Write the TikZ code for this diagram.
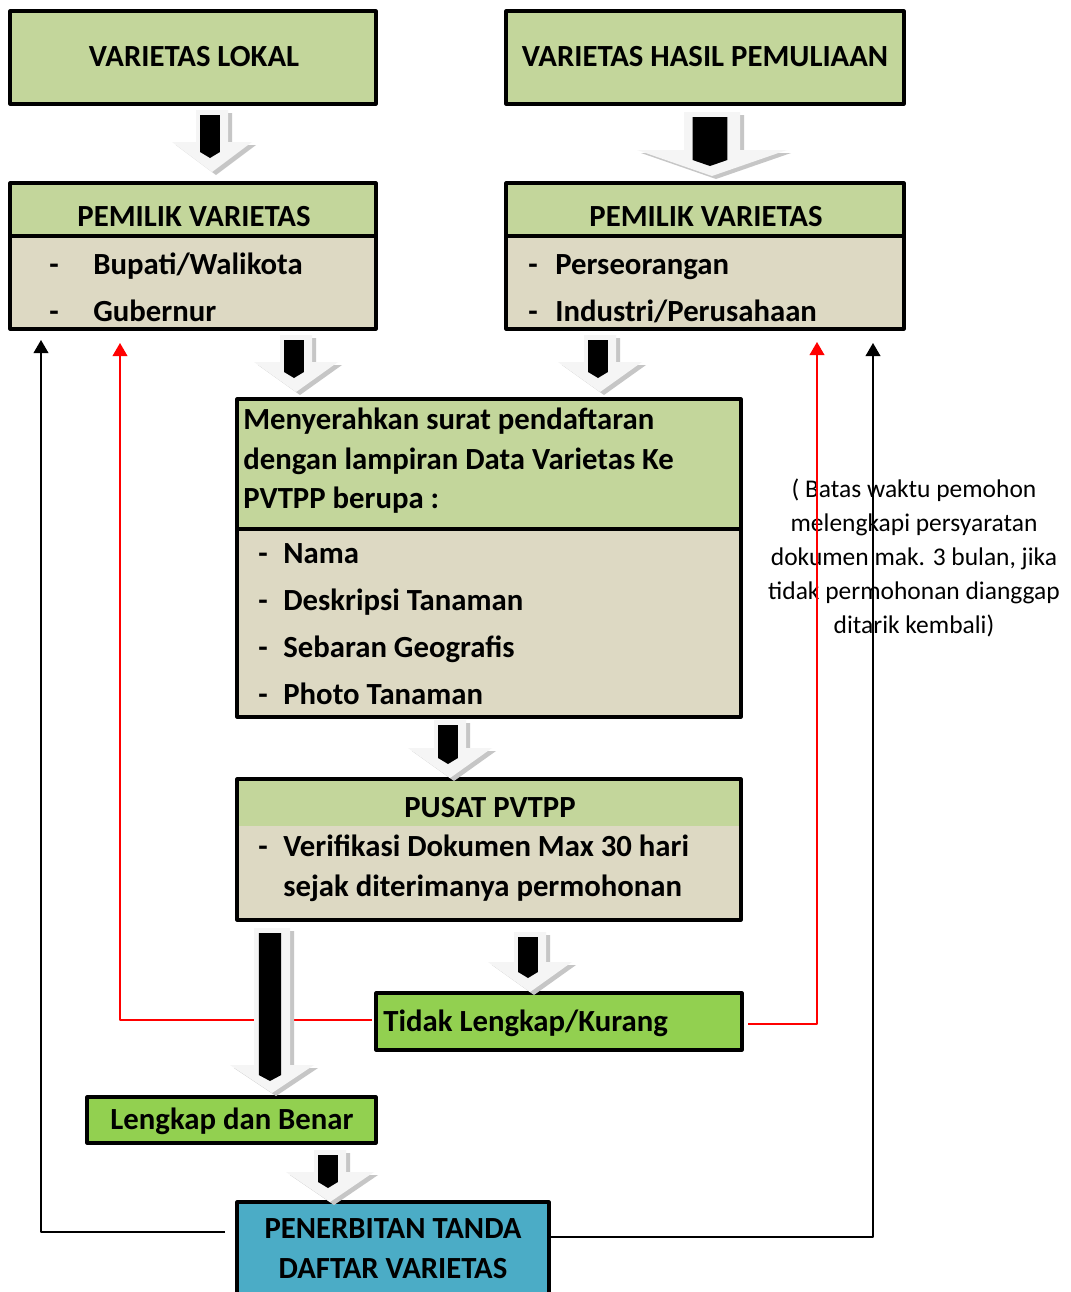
\documentclass[tikz,border=0pt]{standalone}
\usepackage{fontspec}
\setmainfont{Carlito}
\usetikzlibrary{arrows.meta,fit}
\definecolor{hijau}{HTML}{C3D69B}
\definecolor{krem}{HTML}{DDD9C3}
\definecolor{hijaumuda}{HTML}{92D050}
\definecolor{biru}{HTML}{4BACC6}
\tikzset{
  kotak/.style={draw, line width=1.8pt, inner sep=0pt},
  tebal/.style={font=\fontsize{17.5}{20}\selectfont\bfseries, inner sep=0pt},
  kiri/.style={tebal, anchor=mid west, yshift=-3.6pt},
  catatan/.style={font=\fontsize{14.5}{19.3}\selectfont, align=center, inner sep=0pt},
  garis/.style={line width=0.8pt, -{Triangle[length=7.5pt,width=8.5pt]}},
}
\begin{document}
\begin{tikzpicture}[x=0.02cm, y=-0.02cm, line join=round]
\clip (0,0) rectangle (1071,1292);
\fill[white] (0,0) rectangle (1071,1292);
% baris atas
\node[kotak, fill=hijau, fit={(10,11) (376,104)}] (vl) {};
\node[kotak, fill=hijau, fit={(506,11) (904,104)}] (vhp) {};
\node[tebal] (tvl) at (194,57) {VARIETAS LOKAL};
\node[tebal] (tvhp) at (705,57) {VARIETAS HASIL PEMULIAAN};
% pemilik varietas
\foreach \n/\xa/\xb/\xt/\xd/\xi/\sa/\sb in {pl/10/376/194/49/93/Bupati\slash Walikota/Gubernur, pr/506/904/706/528/555/Perseorangan/Industri\slash Perusahaan} {
  \node[kotak, fill=hijau, fit={(\xa,183) (\xb,236)}] (\n-h) {};
  \node[kotak, fill=krem, fit={(\xa,236) (\xb,329)}] (\n-b) {};
  \node[tebal] (\n-t) at (\xt,217) {PEMILIK VARIETAS};
  \node[kiri] (\n-d1) at (\xd,264) {-};
  \node[kiri] (\n-d2) at (\xd,311) {-};
  \node[kiri] (\n-s1) at (\xi,264) {\sa};
  \node[kiri] (\n-s2) at (\xi,311) {\sb};
}
% menyerahkan surat
\node[kotak, fill=hijau, fit={(237,399) (741,529)}] (surat-h) {};
\node[kotak, fill=krem, fit={(237,529) (741,717)}] (surat-b) {};
\foreach \y/\t in {419/Menyerahkan surat pendaftaran, 459/dengan lampiran Data Varietas Ke, 498/PVTPP berupa :}
  \node[kiri] (surat-\y) at (243,\y) {\t};
\foreach \y/\t in {553/Nama, 600/Deskripsi Tanaman, 647/Sebaran Geografis, 694/Photo Tanaman} {
  \node[kiri] (dd-\y) at (258,\y) {-};
  \node[kiri] (lamp-\y) at (283,\y) {\t};
}
% pusat pvtpp
\fill[hijau] (237,779) rectangle (741,826);
\fill[krem] (237,826) rectangle (741,920);
\node[kotak, fit={(237,779) (741,920)}] (pusat) {};
\node[tebal] (tpusat) at (490,808) {PUSAT PVTPP};
\node[kiri] (dpusat) at (258,846) {-};
\node[kiri] (vpusat1) at (283,846) {Verifikasi Dokumen Max 30 hari};
\node[kiri] (vpusat2) at (283,886) {sejak diterimanya permohonan};
% hasil verifikasi
\node[kotak, fill=hijaumuda, fit={(376,993) (742,1050)}] (tidak) {};
\node[kiri] (ttidak) at (383,1021) {Tidak Lengkap/Kurang};
\node[kotak, fill=hijaumuda, fit={(87,1097) (376,1143)}] (lengkap) {};
\node[tebal] (tlengkap) at (232,1121) {Lengkap dan Benar};
\node[kotak, fill=biru, fit={(237,1202) (549,1320)}] (terbit) {};
\node[tebal] (tterbit1) at (393,1229) {PENERBITAN TANDA};
\node[tebal] (tterbit2) at (393,1269) {DAFTAR VARIETAS};
% catatan batas waktu
\node[catatan] (batas) at (914,558) {( Batas waktu pemohon\\melengkapi persyaratan\\dokumen mak. 3 bulan, jika\\tidak permohonan dianggap\\ditarik kembali)};
% garis balik
\coordinate (a1) at (225,1232); \coordinate (b1) at (41,340);
\coordinate (a2) at (551,1237); \coordinate (b2) at (873,343);
\coordinate (a3) at (372,1020); \coordinate (b3) at (120,343);
\coordinate (a4) at (748,1024); \coordinate (b4) at (817,342);
\draw[garis] (a1) -| (b1);
\draw[garis] (a2) -| (b2);
\draw[garis, red] (a3) -| (b3);
\draw[garis, red] (a4) -| (b4);
% panah blok
\foreach \x/\ya/\yb/\h/\s/\k in {212/110/172/40/16/30, 712/112/176/75/28/26, 296/335/392/42/16/30, 600/335/392/42/16/30, 450/720/778/42/16/30, 272/928/1093/42/18/28, 530/932/992/42/16/30, 330/1150/1202/44/16/30} {
  \fill[gray!45] (\x-\s+4,\ya+3) -- (\x+\s+4,\ya+3) -- (\x+\s+4,\yb-\k+3) -- (\x+\h+4,\yb-\k+3) -- (\x+4,\yb+3) -- (\x-\h+4,\yb-\k+3) -- (\x-\s+4,\yb-\k+3) -- cycle;
  \fill[gray!8] (\x-\s,\ya) -- (\x+\s,\ya) -- (\x+\s,\yb-\k) -- (\x+\h,\yb-\k) -- (\x,\yb) -- (\x-\h,\yb-\k) -- (\x-\s,\yb-\k) -- cycle;
  \fill[black] (\x-0.62*\s-2,\ya+5) -- (\x+0.62*\s-2,\ya+5) -- (\x+0.62*\s-2,\yb-\k+10) -- (\x-2,\yb-\k+16) -- (\x-0.62*\s-2,\yb-\k+10) -- cycle;
}
\end{tikzpicture}
\end{document}
